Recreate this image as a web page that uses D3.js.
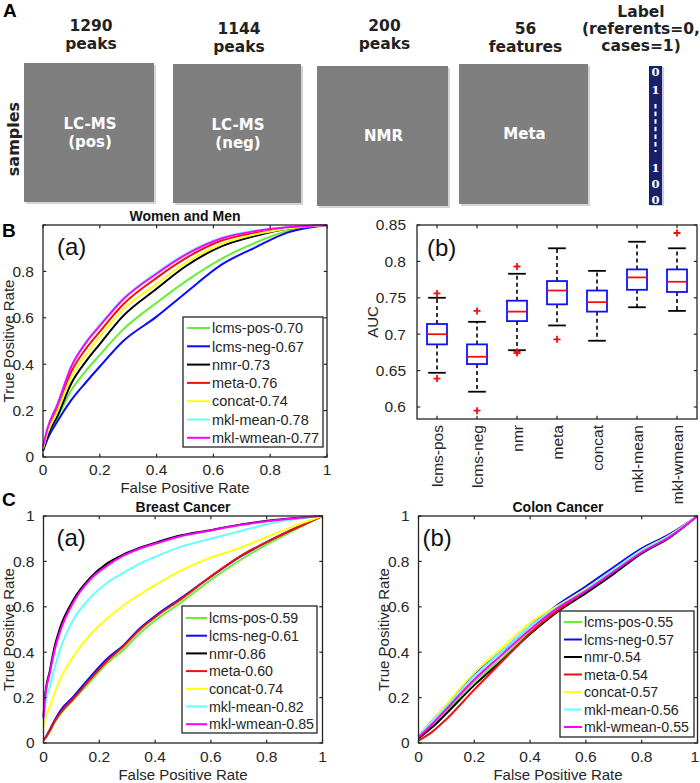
<!DOCTYPE html>
<html><head><meta charset="utf-8">
<script src="https://cdn.jsdelivr.net/npm/d3@7"></script>
<style>body{margin:0;background:#fff}svg{display:block}</style>
</head><body>
<svg id="fig" width="700" height="783"></svg>
<script>
// ---------------- DATA ----------------
const blockHeaderTop = ["1290","1144","200","56"];
const blockHeaderBottom = ["peaks","peaks","peaks","features"];
const blockNames = [["LC-MS","(pos)"],["LC-MS","(neg)"],["NMR"],["Meta"]];
const labelHeader = ["Label","(referents=0,","cases=1)"];
const labelDigits = ["0","1","1","0","0"];

const methods = ["lcms-pos","lcms-neg","nmr","meta","concat","mkl-mean","mkl-wmean"];
const methodColors = ["#66ee33","#0a0aff","#000000","#ee1111","#ffff10","#66ffff","#ff00ff"];

// Women and Men ROC
const wmFpr = [0,0.015,0.05,0.1,0.15,0.2,0.28,0.4,0.5,0.63,0.75,0.86,1];
const wmTpr = [
  [0.03,0.085,0.167,0.289,0.37,0.44,0.547,0.665,0.755,0.855,0.925,0.974,1],
  [0.025,0.075,0.152,0.246,0.32,0.39,0.497,0.605,0.705,0.83,0.905,0.967,1],
  [0.03,0.09,0.174,0.318,0.41,0.487,0.605,0.725,0.82,0.909,0.954,0.984,1],
  [0.04,0.11,0.21,0.368,0.465,0.54,0.655,0.772,0.855,0.933,0.967,0.987,1],
  [0.035,0.10,0.195,0.346,0.44,0.519,0.634,0.745,0.835,0.918,0.96,0.984,1],
  [0.045,0.12,0.226,0.393,0.495,0.57,0.68,0.795,0.875,0.945,0.976,0.99,1],
  [0.045,0.12,0.224,0.39,0.49,0.565,0.677,0.79,0.87,0.943,0.974,0.99,1]
];
const wmAuc = ["0.70","0.67","0.73","0.76","0.74","0.78","0.77"];

// Breast cancer ROC
const bcFpr = [0,0.005,0.023,0.04,0.059,0.107,0.167,0.227,0.286,0.346,0.406,0.494,0.585,0.704,0.824,0.943,1];
const bcTpr = [
  [0.013,0.02,0.05,0.09,0.124,0.19,0.27,0.35,0.41,0.484,0.545,0.62,0.705,0.805,0.89,0.965,1],
  [0.013,0.02,0.06,0.1,0.14,0.204,0.29,0.37,0.43,0.506,0.565,0.64,0.72,0.82,0.9,0.97,1],
  [0.116,0.2,0.32,0.425,0.506,0.63,0.727,0.79,0.83,0.86,0.884,0.915,0.935,0.962,0.982,0.995,1],
  [0.013,0.02,0.055,0.095,0.13,0.195,0.28,0.36,0.425,0.5,0.56,0.635,0.72,0.822,0.9,0.968,1],
  [0.072,0.1,0.16,0.22,0.278,0.381,0.477,0.548,0.606,0.655,0.7,0.76,0.81,0.859,0.92,0.975,1],
  [0.10,0.16,0.25,0.33,0.41,0.543,0.639,0.705,0.749,0.79,0.823,0.865,0.895,0.933,0.97,0.993,1],
  [0.11,0.19,0.31,0.41,0.49,0.62,0.72,0.78,0.825,0.857,0.88,0.912,0.933,0.96,0.98,0.995,1]
];
const bcAuc = ["0.59","0.61","0.86","0.60","0.74","0.82","0.85"];

// Colon cancer ROC
const ccFpr = [0,0.05,0.1,0.2,0.3,0.4,0.5,0.6,0.7,0.8,0.9,1];
const ccTpr = [
  [0.025,0.08,0.14,0.27,0.375,0.49,0.59,0.675,0.76,0.845,0.91,1],
  [0.03,0.1,0.165,0.3,0.405,0.515,0.61,0.69,0.775,0.857,0.92,1],
  [0.02,0.07,0.13,0.255,0.365,0.48,0.58,0.66,0.745,0.835,0.905,1],
  [0.01,0.05,0.105,0.235,0.36,0.485,0.585,0.67,0.76,0.85,0.912,1],
  [0.03,0.1,0.17,0.31,0.42,0.53,0.605,0.68,0.765,0.85,0.915,1],
  [0.03,0.095,0.16,0.295,0.405,0.515,0.6,0.675,0.765,0.848,0.913,1],
  [0.025,0.085,0.15,0.28,0.39,0.5,0.595,0.67,0.755,0.84,0.908,1]
];
const ccAuc = ["0.55","0.57","0.54","0.54","0.57","0.56","0.55"];

// AUC box plot (Women and Men)
const boxQ1  = [0.686,0.659,0.718,0.741,0.731,0.761,0.758];
const boxMed = [0.700,0.669,0.731,0.760,0.744,0.778,0.772];
const boxQ3  = [0.714,0.686,0.746,0.773,0.760,0.789,0.789];
const whiskLo = [0.647,0.621,0.678,0.712,0.691,0.737,0.732];
const whiskHi = [0.750,0.717,0.783,0.818,0.787,0.827,0.818];
const outliers = [[0.756,0.639],[0.732,0.595],[0.793,0.676,0.674],[0.693],[],[],[0.839]];

const rocTicks = [0,0.2,0.4,0.6,0.8,1];
const aucTicks = [0.6,0.65,0.7,0.75,0.8,0.85];

// ---------------- DRAW ----------------
const svg = d3.select("#fig");
const FONT = "'Liberation Sans', Arial, Helvetica, sans-serif";
const BFONT = "'DejaVu Sans', Verdana, sans-serif";
const AX = "#262626";
const FS = 15.5;   // tick labels
const AFS = 15;    // axis labels
const LFS = 14.5;  // legend

// ---- Panel A ----
const gA = svg.append("g");
gA.append("text").attr("x",3).attr("y",17).text("A")
  .attr("font-family",FONT).attr("font-weight","bold").attr("font-size",19);

const blocks = [
  {x:24,y:63,w:130,h:139},
  {x:173,y:64,w:128,h:139},
  {x:317,y:66,w:131,h:140},
  {x:459,y:64,w:129,h:140}
];
const hdrDy = [0,3,0,3];
blocks.forEach((b,i)=>{
  gA.append("rect").attr("x",b.x+2).attr("y",b.y+2).attr("width",b.w).attr("height",b.h).attr("fill","#d4d4d4");
  gA.append("rect").attr("x",b.x).attr("y",b.y).attr("width",b.w).attr("height",b.h).attr("fill","#7f7f7f");
  const cx = b.x + b.w/2 + 2;
  gA.append("text").attr("x",cx).attr("y",31+hdrDy[i]).attr("text-anchor","middle")
    .attr("font-family",BFONT).attr("font-weight","bold").attr("font-size",15.5).attr("fill","#222")
    .text(blockHeaderTop[i]);
  gA.append("text").attr("x",cx).attr("y",49+hdrDy[i]).attr("text-anchor","middle")
    .attr("font-family",BFONT).attr("font-weight","bold").attr("font-size",15.5).attr("fill","#222")
    .text(blockHeaderBottom[i]);
  const lines = blockNames[i];
  const cy = b.y + b.h/2 + 5;
  lines.forEach((t,j)=>{
    gA.append("text").attr("x",b.x+b.w/2+1).attr("y", cy + (j-(lines.length-1)/2)*18)
      .attr("text-anchor","middle").attr("font-family",BFONT).attr("font-weight","bold")
      .attr("font-size",15).attr("fill","#fff").text(t);
  });
});
labelHeader.forEach((t,j)=>{
  gA.append("text").attr("x",641).attr("y",17+j*17).attr("text-anchor","middle")
    .attr("font-family",BFONT).attr("font-weight","bold").attr("font-size",15.5).attr("fill","#222").text(t);
});
gA.append("text").attr("transform","translate(19,139) rotate(-90)").attr("text-anchor","middle")
  .attr("font-family",BFONT).attr("font-weight","bold").attr("font-size",16).attr("fill","#222").text("samples");
// label bar
gA.append("rect").attr("x",651).attr("y",67).attr("width",13).attr("height",139).attr("fill","#c9cbe0");
gA.append("rect").attr("x",649).attr("y",66).attr("width",13).attr("height",139).attr("fill","#18206a");
const digitY = [76,94,172,188,204];
labelDigits.forEach((d,i)=>{
  gA.append("text").attr("x",655.5).attr("y",digitY[i]).attr("text-anchor","middle")
    .attr("font-family","'DejaVu Serif', 'Liberation Serif', serif").attr("font-weight","bold")
    .attr("font-size",11.5).attr("fill","#fff").text(d);
});
d3.range(6).forEach(i=>{
  gA.append("rect").attr("x",654.5).attr("y",104+i*7.6).attr("width",2).attr("height",4.5).attr("fill","#fff");
});
gA.append("rect").attr("x",654.5).attr("y",150).attr("width",2).attr("height",2).attr("fill","#fff");

// panel letters
svg.append("text").attr("x",2).attr("y",237).text("B")
  .attr("font-family",FONT).attr("font-weight","bold").attr("font-size",19);
svg.append("text").attr("x",2).attr("y",506).text("C")
  .attr("font-family",FONT).attr("font-weight","bold").attr("font-size",19);

// ---- common frame/axes ----
function frame(g, x, y, xTicks, yTicks){
  const [x0,x1] = x.range(), [y0,y1] = y.range();
  g.append("rect").attr("x",x0).attr("y",y1).attr("width",x1-x0).attr("height",y0-y1)
    .attr("fill","none").attr("stroke",AX).attr("stroke-width",1.3);
  const tl = 3.2;
  xTicks.forEach(t=>{
    const px = x(t);
    g.append("line").attr("x1",px).attr("x2",px).attr("y1",y0).attr("y2",y0-tl).attr("stroke",AX).attr("stroke-width",1.2);
    g.append("line").attr("x1",px).attr("x2",px).attr("y1",y1).attr("y2",y1+tl).attr("stroke",AX).attr("stroke-width",1.2);
  });
  yTicks.forEach(t=>{
    const py = y(t);
    g.append("line").attr("x1",x0).attr("x2",x0+tl).attr("y1",py).attr("y2",py).attr("stroke",AX).attr("stroke-width",1.2);
    g.append("line").attr("x1",x1).attr("x2",x1-tl).attr("y1",py).attr("y2",py).attr("stroke",AX).attr("stroke-width",1.2);
  });
}

function rocPanel(cfg){
  const g = svg.append("g");
  const x = d3.scaleLinear().domain([0,1]).range([cfg.x0,cfg.x1]);
  const y = d3.scaleLinear().domain([0,1]).range([cfg.y0,cfg.y1]);
  const line = d3.line().x(d=>x(d[0])).y(d=>y(d[1])).curve(d3.curveMonotoneX);
  cfg.tpr.forEach((arr,i)=>{
    g.append("path").datum(cfg.fpr.map((f,k)=>[f,arr[k]]))
      .attr("d",line).attr("fill","none").attr("stroke",methodColors[i]).attr("stroke-width",2)
      .attr("stroke-linejoin","round");
  });
  frame(g,x,y,rocTicks,rocTicks);
  rocTicks.forEach(t=>{
    const tx = g.append("text").attr("x",x(t)).attr("y",cfg.y0+cfg.xlDy).attr("text-anchor","middle")
      .attr("font-family",FONT).attr("font-size",FS).attr("fill",AX).text(d3.format("")(t));
    const w = tx.node().getComputedTextLength();
    if (x(t) + w/2 > 699) tx.attr("x",699).attr("text-anchor","end");
  });
  cfg.yTickLabels.forEach(t=>{
    g.append("text").attr("x",cfg.x0-cfg.ylDx).attr("y",y(t)).attr("dy","0.35em").attr("text-anchor","end")
      .attr("font-family",FONT).attr("font-size",FS).attr("fill",AX).text(d3.format("")(t));
  });
  g.append("text").attr("x",(cfg.x0+cfg.x1)/2).attr("y",cfg.y0+cfg.xLabelDy).attr("text-anchor","middle")
    .attr("font-family",FONT).attr("font-size",AFS).attr("fill",AX).text("False Positive Rate");
  g.append("text").attr("transform",`translate(${cfg.yLabelX},${(cfg.y0+cfg.y1)/2}) rotate(-90)`)
    .attr("text-anchor","middle").attr("font-family",FONT).attr("font-size",AFS).attr("fill",AX).text("True Positive Rate");
  g.append("text").attr("x",(cfg.x0+cfg.x1)/2).attr("y",cfg.y1-4).attr("text-anchor","middle")
    .attr("font-family",FONT).attr("font-weight","bold").attr("font-size",14).attr("fill","#111").text(cfg.title);
  g.append("text").attr("x",cfg.x0+cfg.tagDx).attr("y",cfg.y1+cfg.tagDy)
    .attr("font-family",FONT).attr("font-size",24).attr("fill","#111").text(cfg.tag);
  const L = cfg.legend;
  g.append("rect").attr("x",L.x).attr("y",L.y).attr("width",L.w).attr("height",L.h)
    .attr("fill","#fff").attr("stroke",AX).attr("stroke-width",1.3);
  methods.forEach((m,i)=>{
    const ly = L.y + L.first + i*L.step;
    g.append("line").attr("x1",L.x+4).attr("x2",L.x+L.lineW).attr("y1",ly).attr("y2",ly)
      .attr("stroke",methodColors[i]).attr("stroke-width",2);
    g.append("text").attr("x",L.x+L.lineW+2).attr("y",ly).attr("dy","0.36em")
      .attr("font-family",FONT).attr("font-size",LFS*L.fs).attr("fill",AX).text(`${m}-${cfg.auc[i]}`);
  });
}

rocPanel({x0:43,x1:327,y0:457,y1:225,fpr:wmFpr,tpr:wmTpr,auc:wmAuc,title:"Women and Men",tag:"(a)",
  tagDx:14,tagDy:30,xlDy:18,ylDx:9,xLabelDy:36,yLabelX:14,yTickLabels:[0,0.2,0.4,0.6,0.8],
  legend:{x:183,y:317,w:140,h:130,first:11,step:18.3,lineW:27,fs:1}});
rocPanel({x0:43.5,x1:322.5,y0:743,y1:516,fpr:bcFpr,tpr:bcTpr,auc:bcAuc,title:"Breast Cancer",tag:"(a)",
  tagDx:13,tagDy:30,xlDy:19,ylDx:9,xLabelDy:37,yLabelX:14,yTickLabels:rocTicks,
  legend:{x:182,y:606,w:135,h:127,first:12,step:17.7,lineW:25,fs:0.98}});
rocPanel({x0:418.5,x1:697.5,y0:743,y1:516,fpr:ccFpr,tpr:ccTpr,auc:ccAuc,title:"Colon Cancer",tag:"(b)",
  tagDx:4,tagDy:30,xlDy:19,ylDx:9,xLabelDy:37,yLabelX:389,yTickLabels:rocTicks,
  legend:{x:560,y:611,w:134,h:126,first:11,step:17.5,lineW:22,fs:0.98}});

// ---- Box plot ----
(function(){
  const g = svg.append("g");
  const x = d3.scaleBand().domain(methods).range([417,697]);
  const y = d3.scaleLinear().domain([0.5835,0.85]).range([419,225]);
  const bw = x.bandwidth()*0.5, cw = x.bandwidth()*0.22;
  methods.forEach((m,i)=>{
    const cx = x(m)+x.bandwidth()/2;
    g.append("line").attr("x1",cx).attr("x2",cx).attr("y1",y(boxQ3[i])).attr("y2",y(whiskHi[i]))
      .attr("stroke","#000").attr("stroke-width",1.6).attr("stroke-dasharray","4,3");
    g.append("line").attr("x1",cx).attr("x2",cx).attr("y1",y(boxQ1[i])).attr("y2",y(whiskLo[i]))
      .attr("stroke","#000").attr("stroke-width",1.6).attr("stroke-dasharray","4,3");
    [whiskHi[i],whiskLo[i]].forEach(v=>{
      g.append("line").attr("x1",cx-cw).attr("x2",cx+cw).attr("y1",y(v)).attr("y2",y(v))
        .attr("stroke","#000").attr("stroke-width",1.8);
    });
    g.append("rect").attr("x",cx-bw/2).attr("y",y(boxQ3[i])).attr("width",bw).attr("height",y(boxQ1[i])-y(boxQ3[i]))
      .attr("fill","none").attr("stroke","#1010ff").attr("stroke-width",1.8);
    g.append("line").attr("x1",cx-bw/2).attr("x2",cx+bw/2).attr("y1",y(boxMed[i])).attr("y2",y(boxMed[i]))
      .attr("stroke","#ee1111").attr("stroke-width",1.8);
    outliers[i].forEach(v=>{
      g.append("path").attr("d",`M${cx-3.5},${y(v)}h7M${cx},${y(v)-3.5}v7`)
        .attr("stroke","#ee1111").attr("stroke-width",1.8);
    });
    g.append("text").attr("transform",`translate(${cx+5.5},${425}) rotate(-90)`).attr("text-anchor","end")
      .attr("font-family",FONT).attr("font-size",FS).attr("fill",AX).text(m);
  });
  const xl = d3.scaleLinear().domain([0.5,7.5]).range([417,697]);
  frame(g,xl,y,d3.range(1,8),aucTicks);
  aucTicks.forEach(t=>{
    g.append("text").attr("x",406).attr("y",y(t)).attr("dy","0.35em").attr("text-anchor","end")
      .attr("font-family",FONT).attr("font-size",FS).attr("fill",AX).text(d3.format("")(t));
  });
  g.append("text").attr("transform",`translate(378,322) rotate(-90)`).attr("text-anchor","middle")
    .attr("font-family",FONT).attr("font-size",AFS).attr("fill",AX).text("AUC");
  g.append("text").attr("x",427).attr("y",256).attr("font-family",FONT).attr("font-size",24).attr("fill","#111").text("(b)");
})();
</script>
</body></html>
